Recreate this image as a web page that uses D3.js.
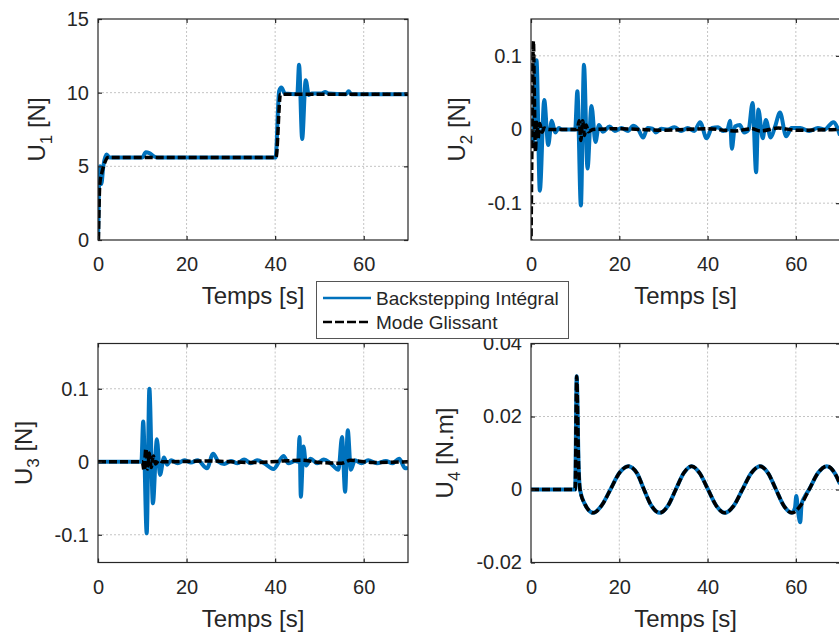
<!DOCTYPE html>
<meta charset="utf-8">
<style>

body { margin: 0; background: #fff; }
text { font-family: "Liberation Sans", Arial, Helvetica, sans-serif; fill: #262626; }
.grid line { stroke: #c4c4c4; stroke-width: 1; stroke-dasharray: 2,2; }
.frame { fill: none; stroke: #262626; stroke-width: 1.2px; }
.axis path { display: none; }
.axis line { stroke: #262626; stroke-width: 1.2px; }
.bs { fill: none; stroke: #0072bd; stroke-width: 4px; stroke-linejoin: round; }
.mg { fill: none; stroke: #000; stroke-width: 3.5px; stroke-dasharray: 8,3; stroke-linejoin: round; }

</style>
<svg width="839" height="635"></svg>
<script src="https://d3js.org/d3.v7.min.js"></script>
<script>

var timeDomain = [0, 70],
    timeTicks = [0, 20, 40, 60];

var legendLabels = ["Backstepping Intégral", "Mode Glissant"];

// U1 [N]
var u1Ticks = [0, 5, 10, 15];
var u1Backstepping = [[0,0],[0.25,4.2],[0.45,5.0],[0.75,3.8],[1.2,5.0],[1.9,5.8],[2.6,5.6],[10,5.6],[10.8,5.95],
  [11.6,5.9],[12.8,5.65],[13.5,5.6],[40.1,5.6],[40.9,10.1],[41.4,10.35],[42.2,9.95],[45,9.9],[45.4,11.9],[46.1,6.85],
  [46.9,10.85],[47.6,9.85],[48.3,9.95],[50.5,9.95],[51.3,10.05],[52,9.95],[56,9.9],[56.6,10.1],[57.2,9.9],[70,9.9]];
var u1Glissant = [[0.1,0],[0.4,3.8],[0.9,4.6],[1.6,5.3],[2.2,5.6],[40.2,5.6],[41.2,9.9],[70,9.9]];

// U2 [N]
var u2Ticks = [-0.1, 0, 0.1];
var u2Backstepping = [[0,0],[0.5,-0.02],[0.8,0.04],[1.25,0.094],[2.0,-0.083],[3.0,0.04],[3.9,-0.021],[4.7,0.012],
  [5.5,-0.004],[6.3,0.002],[7,0],[10,0],[10.5,0.052],[11.3,-0.103],[12.0,0.088],[12.8,-0.053],[13.7,0.032],
  [14.6,-0.017],[15.4,0.006],[16.3,-0.003],[17.8,0.004],[19,-0.002],[20.5,0.002],[22,-0.002],[23.1,0.005],[24.3,0],
  [25.4,-0.011],[26.4,0.002],[27.5,0.001],[28.3,-0.004],[29.5,0.001],[31,0],[32.5,0.003],[34,-0.002],[35.5,0.002],
  [37,-0.002],[38.3,0.010],[39.8,-0.012],[41,0.002],[42.4,0.003],[43.5,-0.002],[44.5,0],[45.1,0.012],[45.5,-0.026],
  [46.2,0.004],[47.3,0.006],[48.3,-0.004],[49.3,0],[50.2,0.036],[51.0,-0.058],[51.5,0.027],[52.5,-0.012],[53.2,0.013],
  [54.3,-0.011],[55.3,0.004],[56.4,0.023],[57.8,-0.009],[59,0.002],[61,0.002],[63,-0.002],[65,0.002],[66.5,0],
  [68.5,0.010],[70,-0.008]];
var u2Glissant = [[0,-0.16],[0.25,0],[0.55,0.12],[0.8,0.03],[1.0,-0.03],[1.3,0.01],[1.6,-0.012],[2.0,0.008],
  [2.5,-0.004],[3,0.002],[4,0],[10.5,0],[10.9,0.012],[11.3,-0.015],[11.7,0.012],[12.1,-0.008],[12.5,0.006],[13,-0.003],
  [14,0],[20,0.001],[30,-0.001],[40,0.001],[46,-0.002],[50,0.001],[52,-0.002],[56,0.002],[60,-0.001],[70,0]];

// U3 [N]
var u3Ticks = [-0.1, 0, 0.1];
var u3Backstepping = [[0,0],[9.8,0],[10.2,0.055],[11.0,-0.098],[11.6,0.1],[12.4,-0.057],[13.3,0.031],[14.0,-0.018],
  [14.9,0.006],[15.6,-0.004],[16.5,0.002],[18,-0.002],[19.5,0.002],[21,-0.001],[22.5,0.002],[24.6,-0.009],[26,0.011],
  [27.2,0],[28.5,-0.003],[30,0.001],[31.5,-0.002],[33,0.003],[34.5,-0.002],[36,0.002],[37.5,-0.002],[39.6,-0.010],
  [41.9,0.008],[43,-0.002],[44.5,0.001],[45.2,0],[45.5,0.034],[45.8,-0.048],[46.4,0.021],[47,-0.005],[48,0.004],
  [49.5,-0.002],[51,0.003],[52.5,-0.002],[54.3,-0.011],[55.1,0.034],[55.8,-0.041],[56.4,0.043],[57.1,-0.011],
  [58,0.002],[59.5,-0.002],[61,0.002],[63,-0.002],[65,0.001],[66.5,-0.002],[68,0.004],[69.4,-0.009],[70,-0.008]];
var u3Glissant = [[0,0],[10,0],[10.4,-0.012],[10.8,0.018],[11.2,-0.01],[11.6,0.012],[12.0,-0.008],[12.5,0.008],
  [13,-0.003],[13.8,0.002],[14.5,0],[25,0.001],[35,-0.001],[46,0.002],[50,-0.001],[55,-0.002],[57,0.002],[62,-0.001],
  [70,0]];

// U4 [N.m]
var u4Ticks = [-0.02, 0, 0.02, 0.04];
var u4Backstepping = [[0,0],[10.0,0],[10.35,0.031],[10.8,0.006],[11.1,0],[12.2,-0.004],[14.1,-0.0064],[16,-0.0044],
  [18,0],[20,0.0045],[22,0.0064],[24,0.0045],[25.6,0],[27.3,-0.0045],[29.2,-0.0064],[31,-0.0045],[32.8,0],
  [34.6,0.0045],[36.4,0.0064],[38.2,0.0045],[40.1,0],[42,-0.0045],[43.9,-0.0064],[45.9,-0.0045],[47.9,0],
  [49.9,0.0045],[51.9,0.0064],[53.7,0.0045],[55.5,0],[57.3,-0.0045],[59.1,-0.0064],[59.8,-0.005],[60.1,-0.0018],
  [60.5,-0.006],[61.0,-0.009],[61.3,-0.004],[62,-0.002],[63,0],[65,0.0045],[67,0.0064],[68.8,0.0045],[70,0.0015]];
var u4Glissant = [[0,0],[10.0,0],[10.35,0.031],[10.8,0.006],[11.1,0],[12.2,-0.004],[14.1,-0.0064],[16,-0.0044],
  [18,0],[20,0.0045],[22,0.0064],[24,0.0045],[25.6,0],[27.3,-0.0045],[29.2,-0.0064],[31,-0.0045],[32.8,0],
  [34.6,0.0045],[36.4,0.0064],[38.2,0.0045],[40.1,0],[42,-0.0045],[43.9,-0.0064],[45.9,-0.0045],[47.9,0],
  [49.9,0.0045],[51.9,0.0064],[53.7,0.0045],[55.5,0],[57.3,-0.0045],[59.1,-0.0064],[61,-0.0045],[63,0],
  [65,0.0045],[67,0.0064],[68.8,0.0045],[70,0.0015]];

var svg = d3.select("svg");

var panels = [
  { id: "p1", left: 98, right: 408, top: 19, bottom: 240, yDomain: [0, 15], ticks: u1Ticks,
    sub: "1", unit: " [N]", labelOff: 53, bs: u1Backstepping, mg: u1Glissant },
  { id: "p2", left: 531, right: 840, top: 19, bottom: 240, yDomain: [-0.15, 0.15], ticks: u2Ticks,
    sub: "2", unit: " [N]", labelOff: 66, bs: u2Backstepping, mg: u2Glissant },
  { id: "p3", left: 98, right: 408, top: 343.5, bottom: 562.5, yDomain: [-0.138, 0.162], ticks: u3Ticks,
    sub: "3", unit: " [N]", labelOff: 66, bs: u3Backstepping, mg: u3Glissant },
  { id: "p4", left: 531, right: 840, top: 343.5, bottom: 562.5, yDomain: [-0.02, 0.04], ticks: u4Ticks,
    sub: "4", unit: " [N.m]", labelOff: 78, bs: u4Backstepping, mg: u4Glissant }
];

function fmt(d) { return String(+d.toFixed(3)); }

panels.forEach(function(p) {
  var x = d3.scaleLinear().domain(timeDomain).range([p.left, p.right]),
      y = d3.scaleLinear().domain(p.yDomain).range([p.bottom, p.top]);

  var g = svg.append("g");

  g.append("clipPath").attr("id", "clip-" + p.id)
    .append("rect")
      .attr("x", p.left).attr("y", p.top)
      .attr("width", p.right - p.left).attr("height", p.bottom - p.top);

  // grid
  var grid = g.append("g").attr("class", "grid");
  grid.selectAll(".gx").data(timeTicks.filter(function(t) { return x(t) > p.left + 1; }))
    .enter().append("line")
      .attr("x1", function(d) { return x(d); }).attr("x2", function(d) { return x(d); })
      .attr("y1", p.top).attr("y2", p.bottom);
  grid.selectAll(".gy").data(p.ticks.filter(function(t) { return y(t) > p.top + 1 && y(t) < p.bottom - 1; }))
    .enter().append("line")
      .attr("x1", p.left).attr("x2", p.right)
      .attr("y1", function(d) { return y(d); }).attr("y2", function(d) { return y(d); });

  var line = d3.line()
      .x(function(d) { return x(d[0]); })
      .y(function(d) { return y(d[1]); })
      .curve(d3.curveMonotoneX);

  var lines = g.append("g").attr("clip-path", "url(#clip-" + p.id + ")");
  lines.append("path").attr("class", "bs").attr("d", line(p.bs));
  lines.append("path").attr("class", "mg").attr("d", line(p.mg));

  // axes, ticks pointing inward
  g.append("g").attr("class", "axis")
      .attr("transform", "translate(0," + p.bottom + ")")
      .call(d3.axisBottom(x).tickValues(timeTicks).tickSize(-4).tickPadding(17).tickFormat(fmt))
      .selectAll("text").style("font-size", "20px");
  g.append("g").attr("class", "axis")
      .attr("transform", "translate(0," + p.top + ")")
      .call(d3.axisTop(x).tickValues(timeTicks).tickSize(-4).tickFormat(""));
  g.append("g").attr("class", "axis")
      .attr("transform", "translate(" + p.left + ",0)")
      .call(d3.axisLeft(y).tickValues(p.ticks).tickSize(-4).tickPadding(9).tickFormat(fmt))
      .selectAll("text").style("font-size", "20px");
  g.append("g").attr("class", "axis")
      .attr("transform", "translate(" + p.right + ",0)")
      .call(d3.axisRight(y).tickValues(p.ticks).tickSize(-4).tickFormat(""));

  g.selectAll(".axis text").attr("fill", "#262626");

  g.append("rect").attr("class", "frame")
    .attr("x", p.left).attr("y", p.top)
    .attr("width", p.right - p.left).attr("height", p.bottom - p.top);

  // labels
  g.append("text")
    .attr("x", (p.left + p.right) / 2)
    .attr("y", p.bottom + 64)
    .attr("text-anchor", "middle")
    .style("font-size", "24px")
    .text("Temps [s]");

  var yl = g.append("text")
    .attr("transform", "translate(" + (p.left - p.labelOff) + "," + ((p.top + p.bottom) / 2) + ") rotate(-90)")
    .attr("text-anchor", "middle")
    .style("font-size", "24px");
  yl.append("tspan").text("U");
  yl.append("tspan").attr("dy", 7).style("font-size", "17px").text(p.sub);
  yl.append("tspan").attr("dy", -7).text(p.unit);
});

// legend
var legend = svg.append("g");
legend.append("rect")
  .attr("x", 316.5).attr("y", 281.5).attr("width", 252).attr("height", 57)
  .attr("fill", "#fff").attr("stroke", "#555").attr("stroke-width", 1);
legendLabels.forEach(function(label, i) {
  var ly = 298 + i * 24;
  legend.append("line")
    .attr("x1", 323).attr("x2", 371).attr("y1", ly).attr("y2", ly)
    .attr("stroke", i === 0 ? "#0072bd" : "#000")
    .attr("stroke-width", 2.5)
    .attr("stroke-dasharray", i === 0 ? null : "9,3");
  legend.append("text")
    .attr("x", 376).attr("y", ly + 7)
    .style("font-size", "19px")
    .text(label);
});

</script>
